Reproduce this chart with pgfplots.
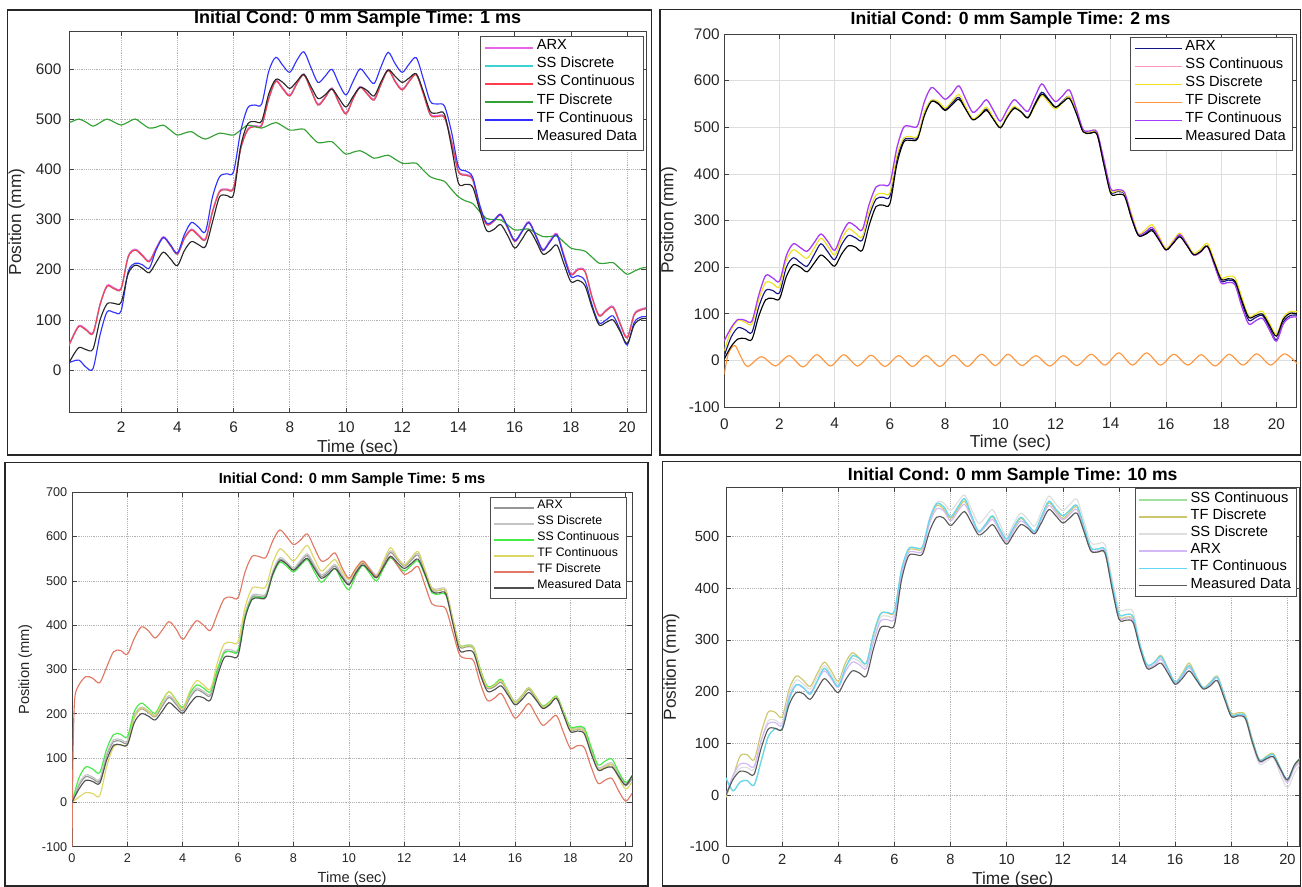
\documentclass[border=0pt]{standalone}
\usepackage{fontspec}
\setmainfont{Liberation Sans}
\usepackage{pgfplots}
\usepackage{pgfplotstable}
\pgfplotsset{compat=1.18}

\definecolor{aMag}{RGB}{230,100,230}
\definecolor{aCyan}{RGB}{60,210,210}
\definecolor{aRed}{RGB}{255,60,80}
\definecolor{aGreen}{RGB}{50,160,50}
\definecolor{aBlue}{RGB}{50,50,255}
\definecolor{aBlack}{RGB}{40,40,40}
\definecolor{bNavy}{RGB}{20,20,130}
\definecolor{bPink}{RGB}{255,150,190}
\definecolor{bYellow}{RGB}{240,225,30}
\definecolor{bOrange}{RGB}{255,150,60}
\definecolor{bPurple}{RGB}{160,60,255}
\definecolor{cGray}{RGB}{150,150,150}
\definecolor{cLight}{RGB}{195,195,195}
\definecolor{cGreen}{RGB}{70,235,70}
\definecolor{cYellow}{RGB}{220,215,100}
\definecolor{cSalmon}{RGB}{225,120,100}
\definecolor{cDark}{RGB}{80,80,80}
\definecolor{dGreen}{RGB}{160,225,160}
\definecolor{dOlive}{RGB}{205,200,110}
\definecolor{dLight}{RGB}{222,222,222}
\definecolor{dLav}{RGB}{210,185,245}
\definecolor{dCyan}{RGB}{100,215,245}
\definecolor{dDark}{RGB}{90,90,90}

% Panel 1 (1 ms): t ARX SSC TFD TFC M
\pgfplotstableread{
t ARX SSC TFD TFC M
0.00 32 30 490 12 -2
0.25 64 62 495 17 25
0.50 89 87 500 20 45
0.75 82 80 494 6 41
1.00 75 73 486 3 42
1.25 132 130 493 70 100
1.50 169 167 500 116 132
1.75 164 162 494 115 133
2.00 164 162 488 118 135
2.25 227 225 494 196 192
2.50 241 239 500 213 209
2.75 230 228 491 210 203
3.00 218 216 482 203 194
3.25 244 242 484 240 215
3.50 266 264 488 264 235
3.75 250 248 478 250 222
4.00 233 231 468 233 208
4.25 264 262 472 270 238
4.50 281 279 475 294 256
4.75 270 268 466 285 250
5.00 262 260 460 276 246
5.25 317 315 466 345 295
5.50 357 355 472 385 345
5.75 361 359 470 391 348
6.00 364 362 468 395 350
6.25 442 440 478 475 445
6.50 480 478 488 522 490
6.75 487 485 485 528 495
7.00 489 487 482 530 496
7.25 542 540 488 595 550
7.50 577 575 493 623 579
7.75 562 560 486 607 573
8.00 548 546 478 593 561
8.25 572 570 479 617 575
8.50 590 588 480 634 589
8.75 560 558 466 603 565
9.00 530 528 453 573 541
9.25 544 542 454 585 548
9.50 562 560 455 599 560
9.75 534 532 442 570 541
10.00 512 510 430 548 524
10.25 542 540 434 575 545
10.50 565 563 437 600 563
10.75 552 550 430 585 557
11.00 540 538 422 571 546
11.25 572 570 425 605 575
11.50 599 597 428 633 598
11.75 576 574 420 610 585
12.00 560 558 412 593 573
12.25 577 575 412 610 582
12.50 590 588 412 622 590
12.75 552 550 398 580 555
13.00 510 508 385 535 515
13.25 507 505 380 530 512
13.50 505 503 376 526 510
13.75 457 455 360 475 445
14.00 397 395 345 405 372
14.25 390 388 337 397 370
14.50 382 380 332 385 365
14.75 327 325 316 330 320
15.00 292 290 302 293 278
15.25 298 296 300 298 280
15.50 311 309 299 310 290
15.75 285 283 289 285 268
16.00 258 256 279 258 243
16.25 277 275 280 275 260
16.50 296 294 281 294 279
16.75 269 267 273 268 258
17.00 240 238 266 239 231
17.25 258 256 266 255 238
17.50 272 270 267 269 249
17.75 230 228 255 225 212
18.00 192 190 243 186 176
18.25 202 200 240 188 179
18.50 198 196 237 178 168
18.75 147 145 225 130 125
19.00 110 108 213 94 90
19.25 120 118 213 100 95
19.50 127 125 214 108 100
19.75 94 92 202 80 77
20.00 66 64 191 50 53
20.25 112 110 197 95 90
20.50 122 120 203 106 102
20.75 125 123 205 106 103
}\tabA

% Panel 2 (2 ms): t ARX SSD TFC M
\pgfplotstableread{
t ARX SSD TFC M
0.00 10 20 42 3
0.25 50 65 70 30
0.50 70 86 88 46
0.75 66 82 86 47
1.00 60 78 84 45
1.25 115 130 140 95
1.50 150 167 182 130
1.75 150 165 177 133
2.00 145 158 170 132
2.25 200 215 225 180
2.50 220 237 250 205
2.75 210 228 242 200
3.00 202 219 234 190
3.25 226 240 252 208
3.50 250 262 271 226
3.75 233 245 255 215
4.00 216 226 236 202
4.25 248 260 270 228
4.50 268 282 295 246
4.75 263 273 288 243
5.00 258 265 280 236
5.25 310 320 335 290
5.50 346 355 372 330
5.75 350 358 376 333
6.00 352 360 380 336
6.25 430 438 455 420
6.50 472 477 500 468
6.75 476 480 502 472
7.00 478 481 503 475
7.25 530 532 555 525
7.50 557 558 585 555
7.75 552 555 574 550
8.00 538 541 560 536
8.25 552 556 572 548
8.50 564 570 589 560
8.75 540 543 560 538
9.00 517 518 532 516
9.25 526 528 543 524
9.50 539 543 559 536
9.75 518 520 536 517
10.00 499 500 513 499
10.25 523 526 538 522
10.50 542 545 559 540
10.75 534 533 546 533
11.00 521 520 534 520
11.25 550 545 565 548
11.50 575 568 593 571
11.75 560 553 572 558
12.00 543 539 555 543
12.25 555 553 567 553
12.50 566 566 580 562
12.75 532 533 540 530
13.00 492 493 495 490
13.25 488 490 492 487
13.50 486 488 490 485
13.75 422 425 430 420
14.00 362 364 368 358
14.25 362 364 366 356
14.50 356 358 360 352
14.75 307 315 310 305
15.00 268 272 270 268
15.25 272 280 275 270
15.50 281 291 285 278
15.75 260 266 262 258
16.00 237 240 237 237
16.25 251 256 252 250
16.50 268 273 270 265
16.75 248 252 250 247
17.00 226 230 226 227
17.25 233 238 232 233
17.50 245 251 244 245
17.75 208 215 205 210
18.00 170 178 166 174
18.25 172 180 167 175
18.50 167 177 162 170
18.75 122 135 115 128
19.00 86 95 78 92
19.25 92 100 85 96
19.50 96 105 90 99
19.75 70 80 65 75
20.00 44 56 41 52
20.25 82 92 78 88
20.50 96 105 92 101
20.75 97 104 93 100
}\tabB

% Panel 3 (5 ms): t ARX SSD SSC TFC M
\pgfplotstableread{
t ARX SSD SSC TFC M
0.00 0 0 0 0 0
0.25 38 42 55 12 30
0.50 58 62 80 22 50
0.75 53 57 75 20 47
1.00 48 52 67 15 43
1.25 105 109 120 80 95
1.50 137 141 153 125 129
1.75 138 142 154 130 130
2.00 135 139 148 131 130
2.25 192 196 205 190 180
2.50 211 215 224 213 200
2.75 203 207 213 205 195
3.00 193 197 201 195 186
3.25 216 220 228 225 205
3.50 237 241 250 250 225
3.75 222 226 232 230 213
4.00 206 210 214 211 201
4.25 235 239 245 250 222
4.50 254 258 265 275 239
4.75 247 251 258 265 236
5.00 241 245 250 256 231
5.25 295 299 300 315 285
5.50 338 342 338 358 327
5.75 340 344 340 361 329
6.00 342 346 342 363 332
6.25 422 426 420 440 415
6.50 463 467 460 483 458
6.75 465 469 463 485 461
7.00 467 471 465 487 463
7.25 518 522 512 540 515
7.50 548 552 542 572 545
7.75 539 543 533 560 538
8.00 525 529 520 545 524
8.25 542 546 535 563 538
8.50 557 561 548 580 551
8.75 533 537 521 550 528
9.00 510 514 497 522 506
9.25 520 524 512 535 515
9.50 533 537 528 548 528
9.75 511 515 500 522 508
10.00 493 497 480 503 491
10.25 520 524 512 526 518
10.50 540 544 535 543 536
10.75 525 529 517 525 522
11.00 510 514 500 510 507
11.25 538 542 528 545 532
11.50 564 568 552 575 555
11.75 548 552 536 553 541
12.00 533 537 522 535 528
12.25 546 550 535 552 539
12.50 558 562 545 566 549
12.75 520 524 512 525 515
13.00 480 484 473 482 476
13.25 478 482 470 479 473
13.50 476 480 468 477 471
13.75 412 416 410 415 405
14.00 352 356 355 355 343
14.25 351 355 354 353 342
14.50 347 351 350 349 338
14.75 295 299 300 298 288
15.00 258 262 262 260 251
15.25 261 265 266 264 254
15.50 271 275 278 275 263
15.75 248 252 250 250 242
16.00 224 228 225 225 220
16.25 238 242 240 240 232
16.50 255 259 258 258 248
16.75 235 239 238 238 232
17.00 214 218 217 215 212
17.25 223 227 227 225 220
17.50 235 239 240 238 235
17.75 200 204 205 202 198
18.00 164 168 170 165 160
18.25 165 169 171 166 161
18.50 160 164 168 160 155
18.75 115 119 125 113 110
19.00 75 79 85 75 73
19.25 80 84 93 80 77
19.50 85 89 98 85 80
19.75 60 64 68 55 58
20.00 38 42 45 30 39
20.25 55 59 62 48 62
20.50 75 79 80 70 80
20.75 80 84 85 75 85
}\tabC

% Panel 4 (10 ms): t SSD ARX TFD TFC M
\pgfplotstableread{
t SSD ARX TFD TFC M
0.00 0 0 -5 33 0
0.25 35 38 35 8 30
0.50 52 60 75 25 46
0.75 53 60 78 28 44
1.00 50 55 68 19 40
1.25 105 105 120 65 90
1.50 143 138 160 112 127
1.75 145 140 160 128 129
2.00 140 135 151 128 127
2.25 195 190 205 185 175
2.50 222 213 230 213 198
2.75 215 207 222 208 196
3.00 205 198 210 195 185
3.25 228 220 235 220 205
3.50 250 240 257 245 225
3.75 233 225 240 228 212
4.00 215 208 220 210 198
4.25 245 238 255 245 222
4.50 264 257 275 269 240
4.75 258 252 265 264 236
5.00 250 245 255 255 230
5.25 300 295 310 310 282
5.50 343 336 350 350 323
5.75 346 339 352 353 326
6.00 349 342 354 356 329
6.25 430 425 432 435 415
6.50 476 468 473 476 462
6.75 478 470 475 478 465
7.00 480 472 477 480 466
7.25 535 525 530 533 510
7.50 566 553 560 563 537
7.75 565 550 553 558 536
8.00 550 530 535 538 521
8.25 566 548 552 556 535
8.50 580 562 568 573 548
8.75 552 535 538 540 526
9.00 525 508 508 510 503
9.25 538 520 522 524 511
9.50 552 533 538 540 523
9.75 525 510 512 515 503
10.00 500 490 490 495 485
10.25 525 512 515 518 505
10.50 545 530 535 537 523
10.75 533 520 522 523 516
11.00 520 508 508 510 505
11.25 550 535 537 540 528
11.50 578 560 565 568 552
11.75 563 546 550 553 540
12.00 550 532 535 540 526
12.25 562 543 547 551 536
12.50 572 552 557 560 545
12.75 530 512 515 520 510
13.00 488 474 472 478 472
13.25 486 472 470 476 470
13.50 484 470 468 474 468
13.75 420 404 405 410 400
14.00 360 343 345 350 340
14.25 358 342 344 349 338
14.50 354 338 340 345 334
14.75 292 286 287 290 283
15.00 252 248 250 252 245
15.25 255 251 256 256 248
15.50 265 262 270 268 255
15.75 242 240 244 243 235
16.00 218 216 218 218 214
16.25 232 229 235 232 225
16.50 250 246 255 250 240
16.75 227 226 230 228 223
17.00 207 206 208 207 205
17.25 216 214 218 216 211
17.50 228 226 230 228 221
17.75 190 190 194 192 187
18.00 153 153 158 155 152
18.25 153 154 159 156 153
18.50 147 150 155 152 148
18.75 98 104 108 106 102
19.00 60 64 68 68 66
19.25 65 69 75 73 70
19.50 72 74 80 78 74
19.75 40 48 52 52 50
20.00 14 24 28 30 29
20.25 42 52 55 58 58
20.50 62 66 70 73 72
20.75 66 68 73 75 74
}\tabD

\pgfplotsset{
  mlab/.style={
    scale only axis, anchor=north west, clip=true,
    axis line style={draw=black!75, line width=0.6pt},
    tick align=inside, major tick length=3.5pt,
    every tick/.style={draw=black!75, line width=0.5pt},
    grid=major, no markers,
    every axis plot/.append style={line width=0.85pt, smooth},
    /pgf/number format/assume math mode=true,
    ticklabel style={text=black!85},
    legend cell align=left,
    title style={at={(0.5,1)}, anchor=center},
    xlabel style={at={(0.5,0)}, anchor=center, text=black!85},
    ylabel style={anchor=center, text=black!85},
  }
}

\begin{document}
\begin{tikzpicture}
\useasboundingbox (0,0) rectangle (976.5pt,-665.25pt);
\fill[white] (0,0) rectangle (976.5pt,-665.25pt);

% ---------------- Panel 1 ----------------
\begin{axis}[mlab, at={(52.05pt,-23.78pt)}, width=432.45pt, height=285.45pt,
  xmin=0.16, xmax=20.67, ymin=-84, ymax=674,
  xtick={2,4,...,20}, ytick={0,100,...,600},
  grid style={densely dotted, draw=black!30, line width=0.5pt},
  tick label style={font=\fontsize{11.5}{12}\selectfont},
  xticklabel style={yshift=-3.5pt}, yticklabel style={xshift=-2.5pt},
  title={Initial Cond: 0 mm Sample Time: 1 ms},
  title style={yshift=3.5pt, font=\bfseries\fontsize{13.5}{14}\selectfont},
  xlabel={Time (sec)}, xlabel style={yshift=-26.8pt, font=\fontsize{13}{13}\selectfont},
  ylabel={Position (mm)}, ylabel style={at={([xshift=-39.5pt]axis description cs:0,0.5)}, font=\fontsize{13}{13}\selectfont},
  legend image code/.code={\draw[#1, line width=1.2pt] (0pt,0pt) -- (36pt,0pt);},
  legend style={at={(1,1)}, anchor=north east, xshift=-1.5pt, yshift=-3pt,
    font=\fontsize{11}{13}\selectfont, draw=black!70, inner xsep=3pt, inner ysep=2pt,
    row sep=0pt, nodes={inner xsep=2pt, inner ysep=0pt, text height=8.3pt, text depth=5.3pt}},
]
\addplot[aMag] table[x=t,y=ARX] {\tabA};
\addplot[aCyan] table[x=t,y=SSC] {\tabA};
\addplot[aRed] table[x=t,y=SSC] {\tabA};
\addplot[aGreen] table[x=t,y=TFD] {\tabA};
\addplot[aBlue] table[x=t,y=TFC] {\tabA};
\addplot[aBlack] table[x=t,y=M] {\tabA};
\legend{ARX, SS Discrete, SS Continuous, TF Discrete, TF Continuous, Measured Data}
\end{axis}

% ---------------- Panel 2 ----------------
\begin{axis}[mlab, at={(543.2pt,-25.5pt)}, width=429.4pt, height=279.75pt,
  xmin=0, xmax=20.74, ymin=-100, ymax=700,
  xtick={0,2,...,20}, ytick={-100,0,...,700},
  grid style={solid, draw=black!13, line width=0.5pt},
  tick label style={font=\fontsize{11.5}{12}\selectfont},
  xticklabel style={yshift=-5pt},
  title={Initial Cond: 0 mm Sample Time: 2 ms},
  title style={yshift=4.5pt, font=\bfseries\fontsize{13.2}{14}\selectfont},
  xlabel={Time (sec)}, xlabel style={yshift=-27pt, font=\fontsize{13}{13}\selectfont},
  ylabel={Position (mm)}, ylabel style={at={([xshift=-41.5pt]axis description cs:0,0.5)}, font=\fontsize{13}{13}\selectfont},
  legend image code/.code={\draw[#1, line width=1.2pt] (0pt,0pt) -- (35pt,0pt);},
  legend style={at={(1,1)}, anchor=north east, xshift=-3.1pt, yshift=-2pt,
    font=\fontsize{11}{13}\selectfont, draw=black!70, inner xsep=3pt, inner ysep=2pt,
    row sep=0pt, nodes={inner xsep=2pt, inner ysep=0pt, text height=8.3pt, text depth=5.2pt}},
]
\addplot[bNavy] table[x=t,y=ARX] {\tabB};
\addplot[bPink] table[x=t,y=TFC] {\tabB};
\addplot[bYellow] table[x=t,y=SSD] {\tabB};
\addplot[bOrange] coordinates {(0,-30) (0.15,15) (0.38,32) (0.6,8) (0.85,-13) (1.35,8) (1.85,-12) (2.35,10) (2.85,-14) (3.35,12) (3.85,-12) (4.33,12) (4.83,-12) (5.32,11) (5.82,-13) (6.32,10) (6.82,-13) (7.31,10) (7.81,-13) (8.31,11) (8.81,-13) (9.32,13) (9.82,-11) (10.28,13) (10.78,-11) (11.29,10) (11.79,-12) (12.28,10) (12.78,-11) (13.29,13) (13.79,-10) (14.29,16) (14.79,-10) (15.3,16) (15.8,-10) (16.29,13) (16.79,-10) (17.28,12) (17.78,-12) (18.29,13) (18.79,-10) (19.29,14) (19.79,-10) (20.3,14) (20.8,-10)};
\addplot[bPurple] table[x=t,y=TFC] {\tabB};
\addplot[black] table[x=t,y=M] {\tabB};
\legend{ARX, SS Continuous, SS Discrete, TF Discrete, TF Continuous, Measured Data}
\end{axis}

% ---------------- Panel 3 ----------------
\begin{axis}[mlab, at={(54pt,-369.2pt)}, width=420.1pt, height=265.8pt,
  xmin=0, xmax=20.23, ymin=-100, ymax=700,
  xtick={0,2,...,20}, ytick={-100,0,...,700},
  grid style={densely dotted, draw=black!30, line width=0.5pt},
  tick label style={font=\fontsize{9.5}{10}\selectfont},
  xticklabel style={yshift=-2pt},
  title={Initial Cond: 0 mm Sample Time: 5 ms},
  title style={yshift=3.2pt, font=\bfseries\fontsize{11}{12}\selectfont},
  xlabel={Time (sec)}, xlabel style={yshift=-24.2pt, font=\fontsize{11}{11}\selectfont},
  ylabel={Position (mm)}, ylabel style={at={([xshift=-35pt]axis description cs:0,0.5)}, font=\fontsize{11}{11}\selectfont},
  legend image code/.code={\draw[#1, line width=1.4pt] (0pt,0pt) -- (30pt,0pt);},
  legend style={at={(1,1)}, anchor=north east, xshift=-3.9pt, yshift=-3.3pt,
    font=\fontsize{9.2}{11}\selectfont, draw=black!70, inner xsep=2pt, inner ysep=2pt,
    row sep=0pt, nodes={inner xsep=2pt, inner ysep=0pt, text height=7pt, text depth=5pt}},
]
\addplot[cGray] table[x=t,y=ARX] {\tabC};
\addplot[cLight] table[x=t,y=SSD] {\tabC};
\addplot[cGreen] table[x=t,y=SSC] {\tabC};
\addplot[cYellow] table[x=t,y=TFC] {\tabC};
\addplot[cSalmon] coordinates {(0,-100) (0.04,120) (0.1,235) (0.25,265) (0.5,284) (0.75,280) (1.0,270) (1.25,305) (1.5,340) (1.75,343) (2.0,334) (2.25,370) (2.5,396) (2.75,388) (3.0,371) (3.25,388) (3.5,408) (3.75,392) (4.0,368) (4.25,390) (4.5,410) (4.75,400) (5.0,388) (5.25,425) (5.5,460) (5.75,463) (6.0,462) (6.25,520) (6.5,555) (6.75,555) (7.0,553) (7.25,590) (7.5,615) (7.75,600) (8.0,582) (8.25,592) (8.5,606) (8.75,575) (9.0,545) (9.25,550) (9.5,563) (9.75,530) (10.0,506) (10.25,528) (10.5,545) (10.75,526) (11.0,509) (11.25,532) (11.5,556) (11.75,535) (12.0,515) (12.25,522) (12.5,532) (12.75,490) (13.0,448) (13.25,443) (13.5,437) (13.75,385) (14.0,333) (14.25,325) (14.5,320) (14.75,268) (15.0,230) (15.25,235) (15.5,246) (15.75,218) (16.0,190) (16.25,205) (16.5,223) (16.75,198) (17.0,174) (17.25,185) (17.5,196) (17.75,158) (18.0,122) (18.25,128) (18.5,124) (18.75,80) (19.0,43) (19.25,50) (19.5,54) (19.75,25) (20.0,3) (20.25,22) (20.5,40)};
\addplot[cDark] table[x=t,y=M] {\tabC};
\legend{ARX, SS Discrete, SS Continuous, TF Continuous, TF Discrete, Measured Data}
\end{axis}

% ---------------- Panel 4 ----------------
\begin{axis}[mlab, at={(544.5pt,-365.5pt)}, width=430.1pt, height=269.5pt,
  xmin=0, xmax=20.43, ymin=-100, ymax=595,
  xtick={0,2,...,20}, ytick={-100,0,...,500},
  grid style={densely dotted, draw=black!30, line width=0.5pt},
  tick label style={font=\fontsize{11}{12}\selectfont},
  xticklabel style={yshift=-2.5pt}, yticklabel style={xshift=-1.5pt},
  title={Initial Cond: 0 mm Sample Time: 10 ms},
  title style={yshift=2.5pt, font=\bfseries\fontsize{13.2}{14}\selectfont},
  xlabel={Time (sec)}, xlabel style={yshift=-25pt, font=\fontsize{13}{13}\selectfont},
  ylabel={Position (mm)}, ylabel style={at={([xshift=-40.9pt]axis description cs:0,0.5)}, font=\fontsize{13}{13}\selectfont},
  legend image code/.code={\draw[#1, line width=1.2pt] (0pt,0pt) -- (36.5pt,0pt);},
  legend style={at={(1,1)}, anchor=north east, xshift=-2.2pt, yshift=-0.75pt,
    font=\fontsize{11}{13}\selectfont, draw=black!70, inner xsep=2pt, inner ysep=2pt,
    row sep=0pt, nodes={inner xsep=2pt, inner ysep=0pt, text height=8.3pt, text depth=4.55pt}},
]
\addplot[dGreen] table[x=t,y=TFC] {\tabD};
\addplot[dOlive] table[x=t,y=TFD] {\tabD};
\addplot[dLight] table[x=t,y=SSD] {\tabD};
\addplot[dLav] table[x=t,y=ARX] {\tabD};
\addplot[dCyan] table[x=t,y=TFC] {\tabD};
\addplot[dDark] table[x=t,y=M] {\tabD};
\legend{SS Continuous, TF Discrete, SS Discrete, ARX, TF Continuous, Measured Data}
\end{axis}

% panel frames
\draw[line width=1.1pt, black!85] (5.7pt,-7.5pt) rectangle (488.6pt,-341.25pt);
\draw[line width=1.1pt, black!85] (495pt,-7pt) rectangle (975.4pt,-341.25pt);
\draw[line width=1.1pt, black!85] (3.75pt,-346.7pt) rectangle (486pt,-664.5pt);
\draw[line width=1.1pt, black!85] (496.8pt,-346.3pt) rectangle (975.4pt,-664.5pt);
\end{tikzpicture}
\end{document}
